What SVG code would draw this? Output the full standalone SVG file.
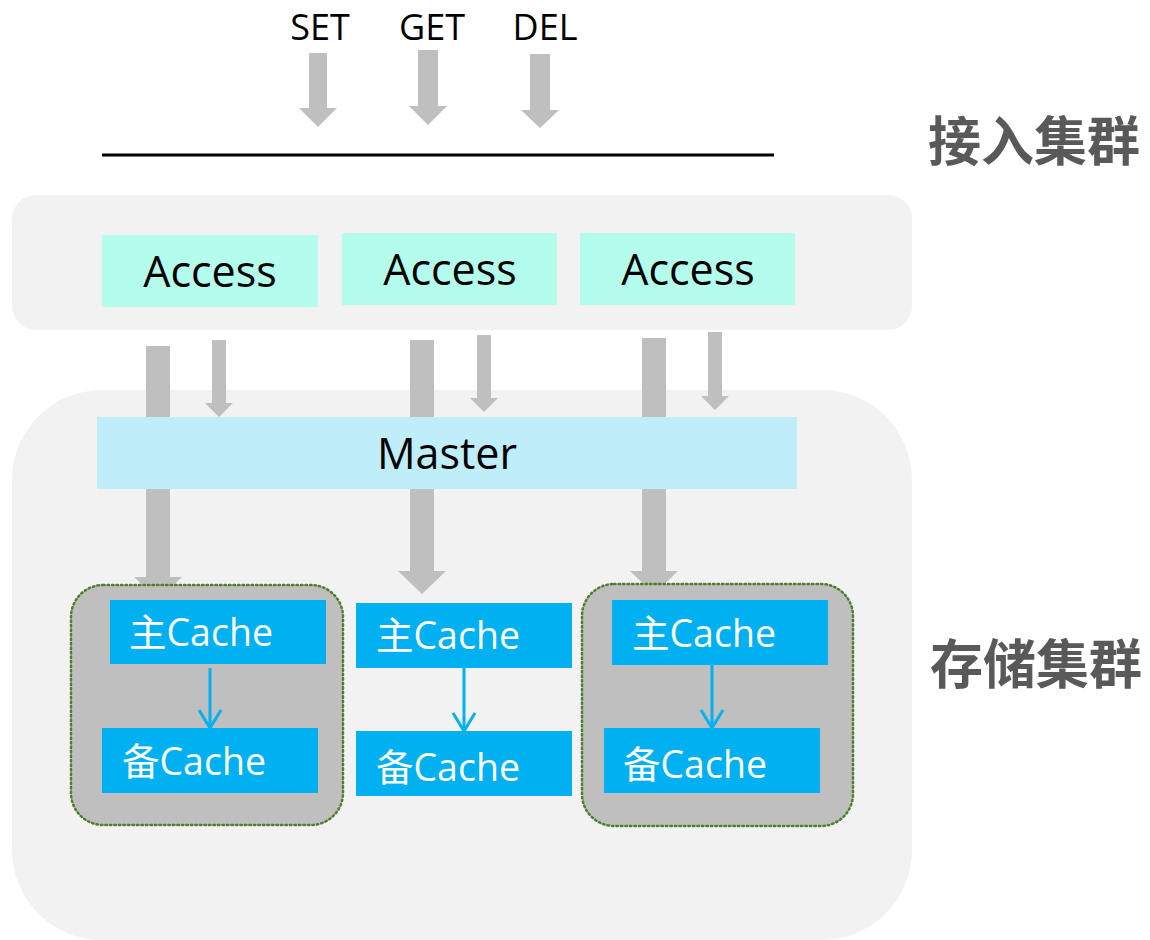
<svg xmlns="http://www.w3.org/2000/svg" width="1150" height="940" viewBox="0 0 1150 940">
<style>
.bg{fill:#F2F2F2}
.garrow{fill:#BFBFBF}
.access{fill:#B4FCEB}
.master{fill:#C0EDFA}
.grp{fill:#BFBFBF;stroke:#4F7F2F;stroke-width:2.5;stroke-dasharray:1.5 3;stroke-linecap:round}
.cache{fill:#00B0F0}
.blue{fill:none;stroke:#00B0F0;stroke-width:3}
.t{font-family:"Open Sans","Noto Sans","Noto Sans CJK SC",sans-serif;fill:#000}
.ct{font-family:"Open Sans","Noto Sans CJK SC",sans-serif;font-size:37.5px;fill:#fff}
.lbl{font-family:"Noto Sans CJK SC","Noto Sans CJK TC",sans-serif;font-weight:700;font-size:53px;fill:#595959}
</style>
<rect width="1150" height="940" fill="#fff"/>
<g id="access-cluster-bg"><rect class="bg" x="12" y="195" width="900" height="135" rx="24"/></g>
<g id="storage-cluster-bg"><rect class="bg" x="12" y="390" width="900" height="550" rx="90"/></g>

<g id="ops">
<text class="t" x="320" y="40" font-size="36" text-anchor="middle">SET</text>
<text class="t" x="432" y="40" font-size="36" text-anchor="middle">GET</text>
<text class="t" x="545" y="40" font-size="36" text-anchor="middle">DEL</text>
</g>

<g id="connectors">
<path class="garrow" d="M309,53H327V108H337L318,127L299,108H309Z"/>
<path class="garrow" d="M418,50H438V106H447L428,125L409,106H418Z"/>
<path class="garrow" d="M530,54H550V110H559L540,128L521,110H530Z"/>
<line x1="102" y1="155" x2="774" y2="155" stroke="#000" stroke-width="3"/>
<path class="garrow" d="M212,340H226V403H233L219,417L205,403H212Z"/>
<path class="garrow" d="M477,335H491V398H498L484,412L470,398H477Z"/>
<path class="garrow" d="M708,332H722V396H729L715,410L701,396H708Z"/>
<path class="garrow" d="M146,346H170V577H182L158,600L134,577H146Z"/>
<path class="garrow" d="M410,340H434V571H446L422,594L398,571H410Z"/>
<path class="garrow" d="M642,338H666V571H678L654,594L630,571H642Z"/>
</g>

<g id="access1"><rect class="access" x="102" y="235" width="216" height="72"/><text class="t" x="210" y="287" font-size="43" text-anchor="middle">Access</text></g>
<g id="access2"><rect class="access" x="342" y="233" width="215" height="72"/><text class="t" x="450" y="285" font-size="43" text-anchor="middle">Access</text></g>
<g id="access3"><rect class="access" x="580" y="233" width="215" height="72"/><text class="t" x="688" y="285" font-size="43" text-anchor="middle">Access</text></g>

<g id="master"><rect class="master" x="97" y="417" width="700" height="72"/><text class="t" x="447" y="469" font-size="43" text-anchor="middle">Master</text></g>

<g id="group1"><rect class="grp" x="71" y="585" width="272" height="240" rx="32"/></g>
<g id="group3"><rect class="grp" x="582" y="584" width="271" height="242" rx="32"/></g>

<g id="cache-links">
<line class="blue" x1="210" y1="668" x2="210" y2="726"/><path class="blue" d="M199,710L210,728L221,710"/>
<line class="blue" x1="464" y1="668" x2="464" y2="729"/><path class="blue" d="M453,713L464,731L475,713"/>
<line class="blue" x1="712" y1="665" x2="712" y2="726"/><path class="blue" d="M701,710L712,728L723,710"/>
</g>

<g id="master-cache1"><rect class="cache" x="110" y="600" width="216" height="64"/><text class="ct" x="129" y="646">主Cache</text></g>
<g id="backup-cache1"><rect class="cache" x="102" y="728" width="216" height="65"/><text class="ct" x="122" y="775">备Cache</text></g>
<g id="master-cache2"><rect class="cache" x="356" y="603" width="216" height="65"/><text class="ct" x="376" y="649">主Cache</text></g>
<g id="backup-cache2"><rect class="cache" x="356" y="731" width="216" height="65"/><text class="ct" x="376" y="781">备Cache</text></g>
<g id="master-cache3"><rect class="cache" x="612" y="600" width="216" height="65"/><text class="ct" x="632" y="647">主Cache</text></g>
<g id="backup-cache3"><rect class="cache" x="604" y="728" width="216" height="65"/><text class="ct" x="623" y="778">备Cache</text></g>

<g id="labels">
<text class="lbl" x="928" y="161">接入集群</text>
<text class="lbl" x="930" y="684">存储集群</text>
</g>
</svg>
